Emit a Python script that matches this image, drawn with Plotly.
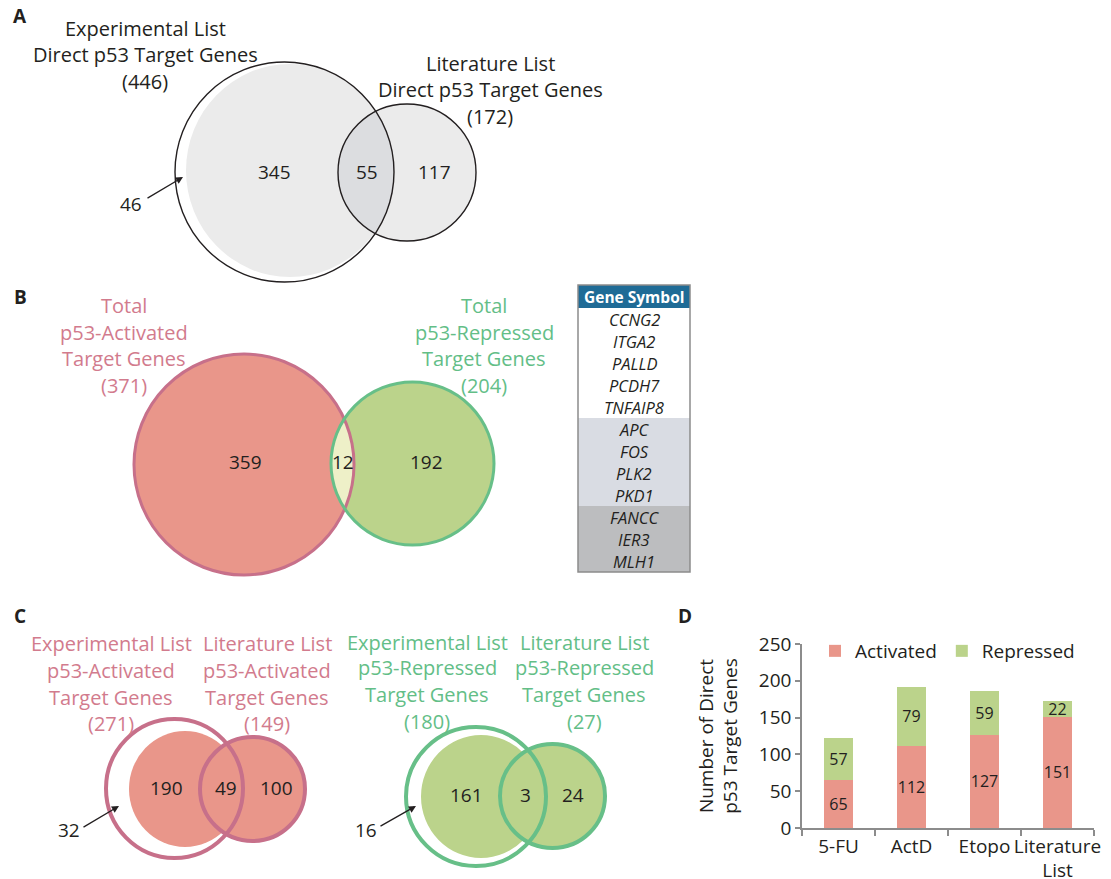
import numpy as np
import plotly.graph_objects as go

W, H = 1111, 879

# ---------------- data ----------------
a_counts = [345, 55, 117]        # experimental only, both, literature only
a_outside = 46                   # experimental genes in the white crescent
b_counts = [359, 12, 192]        # activated only, both, repressed only
c_act_counts = [190, 49, 100]
c_act_outside = 32
c_rep_counts = [161, 3, 24]
c_rep_outside = 16
gene_symbols = ["CCNG2", "ITGA2", "PALLD", "PCDH7", "TNFAIP8",
                "APC", "FOS", "PLK2", "PKD1", "FANCC", "IER3", "MLH1"]
gene_group_sizes = [5, 4, 3]
d_categories = ["5-FU", "ActD", "Etopo", "Literature<br>List"]
d_activated = [65, 112, 127, 151]
d_repressed = [57, 79, 59, 22]

a_total_exp = a_counts[0] + a_counts[1] + a_outside
a_total_lit = a_counts[1] + a_counts[2]
b_total_act = b_counts[0] + b_counts[1]
b_total_rep = b_counts[1] + b_counts[2]
c_act_total_exp = c_act_counts[0] + c_act_counts[1] + c_act_outside
c_act_total_lit = c_act_counts[1] + c_act_counts[2]
c_rep_total_exp = c_rep_counts[0] + c_rep_counts[1] + c_rep_outside
c_rep_total_lit = c_rep_counts[1] + c_rep_counts[2]

# ---------------- styles ----------------
FONT = "Open Sans"
INK = "#231f20"
RED_FILL = "#e9968a"
GREEN_FILL = "#bbd38b"
PINK_LINE = "#c7708a"
GREEN_LINE = "#67bf88"
PINK_TEXT = "#d27b8d"
GREEN_TEXT = "#63be87"
LENS_B = "#eef0c8"
GREY_FILL = "#ebebeb"
GREY_LENS = "#dcdde0"
TABLE_HEAD = "#1f6b96"
TABLE_FILLS = ["#ffffff", "#d9dce3", "#bcbdbf"]
LABEL_SIZE = 20
NUM_SIZE = 19

shapes = []
annotations = []


def ellipse(box, fill=None, line=None, width=0):
    x0, x1, y0, y1 = box
    return dict(type="circle", xref="x", yref="y", x0=x0, x1=x1, y0=y0, y1=y1,
                fillcolor=fill or "rgba(0,0,0,0)",
                line=dict(color=line or "rgba(0,0,0,0)", width=width))


def _center(box):
    x0, x1, y0, y1 = box
    return (x0 + x1) / 2, (y0 + y1) / 2, (x1 - x0) / 2, (y1 - y0) / 2


def lens(box1, box2, fill):
    cx1, cy1, rx1, ry1 = _center(box1)
    cx2, cy2, rx2, ry2 = _center(box2)
    n = 1440
    s1 = np.arctan2(cy2 - cy1, cx2 - cx1) + np.pi
    s2 = np.arctan2(cy1 - cy2, cx1 - cx2) + np.pi
    t1 = s1 + np.linspace(0, 2 * np.pi, n, endpoint=False)
    t2 = s2 + np.linspace(0, 2 * np.pi, n, endpoint=False)
    x1, y1 = cx1 + rx1 * np.cos(t1), cy1 + ry1 * np.sin(t1)
    x2, y2 = cx2 + rx2 * np.cos(t2), cy2 + ry2 * np.sin(t2)
    k1 = ((x1 - cx2) / rx2) ** 2 + ((y1 - cy2) / ry2) ** 2 <= 1
    k2 = ((x2 - cx1) / rx1) ** 2 + ((y2 - cy1) / ry1) ** 2 <= 1
    xs = np.concatenate([x1[k1], x2[k2]])
    ys = np.concatenate([y1[k1], y2[k2]])
    path = "M" + " L".join(f"{a:.2f},{b:.2f}" for a, b in zip(xs, ys)) + " Z"
    return dict(type="path", xref="x", yref="y", path=path, fillcolor=fill,
                line=dict(width=0))


def txt(x, y, s, color=INK, size=NUM_SIZE, bold=False, italic=False):
    if bold:
        s = f"<b>{s}</b>"
    if italic:
        s = f"<i>{s}</i>"
    annotations.append(dict(x=x, y=y, xref="x", yref="y", text=s,
                            showarrow=False, xanchor="center", yanchor="middle",
                            font=dict(family=FONT, size=size, color=color)))


def lines(x, ys, strs, color):
    for y, s in zip(ys, strs):
        txt(x, y, s, color=color, size=LABEL_SIZE)


def arrow(tail, head):
    annotations.append(dict(x=head[0], y=head[1], ax=tail[0], ay=tail[1],
                            xref="x", yref="y", axref="x", ayref="y", text="",
                            showarrow=True, arrowhead=2, arrowsize=1.1,
                            arrowwidth=1.3, arrowcolor=INK, standoff=0, startstandoff=0))


# ---------------- panel A ----------------
A_out = (175, 394, 62, 282)
A_fill = (186, 394, 64, 277)
A_small = (338, 476, 104, 241)
shapes += [ellipse(A_fill, fill=GREY_FILL),
           ellipse(A_small, fill=GREY_FILL),
           lens(A_fill, A_small, GREY_LENS),
           ellipse(A_out, line=INK, width=1.4),
           ellipse(A_small, line=INK, width=1.4)]
txt(20, 16, "A", size=19, bold=True)
lines(145, [28, 54, 81], ["Experimental List", "Direct p53 Target Genes", f"({a_total_exp})"], INK)
lines(490, [63, 89, 116], ["Literature List", "Direct p53 Target Genes", f"({a_total_lit})"], INK)
txt(274, 172, str(a_counts[0]))
txt(367, 172, str(a_counts[1]))
txt(434, 172, str(a_counts[2]))
txt(131, 204, str(a_outside))
arrow((146, 199), (183, 177))

# ---------------- panel B ----------------
B_red = (134, 354, 354, 575)
B_green = (331, 494, 382, 545)
shapes += [ellipse(B_red, fill=RED_FILL),
           ellipse(B_green, fill=GREEN_FILL),
           lens(B_red, B_green, LENS_B),
           ellipse(B_red, line=PINK_LINE, width=3),
           ellipse(B_green, line=GREEN_LINE, width=3)]
txt(20, 297, "B", size=19, bold=True)
lines(124, [305, 332, 358, 385], ["Total", "p53-Activated", "Target Genes", f"({b_total_act})"], PINK_TEXT)
lines(484, [305, 332, 358, 385], ["Total", "p53-Repressed", "Target Genes", f"({b_total_rep})"], GREEN_TEXT)
txt(245, 462, str(b_counts[0]))
txt(343, 462, str(b_counts[1]))
txt(426, 462, str(b_counts[2]))

# ---------------- gene table (panel B right) ----------------
T_X0, T_X1, T_TOP, T_HEAD, T_ROW = 578, 690, 285, 23, 22
shapes.append(dict(type="rect", xref="x", yref="y", x0=T_X0, x1=T_X1, y0=T_TOP, y1=T_TOP + T_HEAD,
                   fillcolor=TABLE_HEAD, line=dict(width=0)))
txt((T_X0 + T_X1) / 2, T_TOP + T_HEAD / 2, "Gene Symbol", color="white", size=15.5, bold=True)
row = 0
for g, n in enumerate(gene_group_sizes):
    y0 = T_TOP + T_HEAD + row * T_ROW
    shapes.append(dict(type="rect", xref="x", yref="y", x0=T_X0, x1=T_X1, y0=y0, y1=y0 + n * T_ROW,
                       fillcolor=TABLE_FILLS[g], line=dict(width=0)))
    row += n
for i, gname in enumerate(gene_symbols):
    txt((T_X0 + T_X1) / 2, T_TOP + T_HEAD + (i + 0.5) * T_ROW, gname, size=16.5, italic=True)
shapes.append(dict(type="rect", xref="x", yref="y", x0=T_X0, x1=T_X1, y0=T_TOP,
                   y1=T_TOP + T_HEAD + len(gene_symbols) * T_ROW,
                   line=dict(color="#8c8c8c", width=1.5), fillcolor="rgba(0,0,0,0)"))

# ---------------- panel C ----------------
C1_ring = (106, 243, 719, 858)
C1_fill = (129, 241, 731, 847)
C1_small = (200, 305, 737, 841)
C2_ring = (406, 546, 727, 866)
C2_fill = (421, 541, 735, 858)
C2_small = (500, 605, 744, 848)
shapes += [ellipse(C1_fill, fill=RED_FILL),
           ellipse(C1_small, fill=RED_FILL),
           ellipse(C1_ring, line=PINK_LINE, width=4),
           ellipse(C1_small, line=PINK_LINE, width=4),
           ellipse(C2_fill, fill=GREEN_FILL),
           ellipse(C2_small, fill=GREEN_FILL),
           ellipse(C2_ring, line=GREEN_LINE, width=4),
           ellipse(C2_small, line=GREEN_LINE, width=4)]
txt(20, 616, "C", size=19, bold=True)
lines(111, [643, 670, 697, 723], ["Experimental List", "p53-Activated", "Target Genes", f"({c_act_total_exp})"], PINK_TEXT)
lines(267, [643, 670, 697, 723], ["Literature List", "p53-Activated", "Target Genes", f"({c_act_total_lit})"], PINK_TEXT)
lines(427, [642, 667, 694, 721], ["Experimental List", "p53-Repressed", "Target Genes", f"({c_rep_total_exp})"], GREEN_TEXT)
lines(584, [642, 667, 694, 721], ["Literature List", "p53-Repressed", "Target Genes", f"({c_rep_total_lit})"], GREEN_TEXT)
txt(166, 788, str(c_act_counts[0]))
txt(226, 788, str(c_act_counts[1]))
txt(276, 788, str(c_act_counts[2]))
txt(69, 830, str(c_act_outside))
arrow((82, 828), (119, 806))
txt(466, 795, str(c_rep_counts[0]))
txt(525, 795, str(c_rep_counts[1]))
txt(573, 795, str(c_rep_counts[2]))
txt(366, 830, str(c_rep_outside))
arrow((379, 827), (416, 806))

# ---------------- panel D label ----------------
txt(685, 616, "D", size=19, bold=True)

fig = go.Figure()
fig.add_trace(go.Scatter(x=[0], y=[0], mode="markers", marker=dict(opacity=0),
                         showlegend=False, hoverinfo="skip"))

for name, vals, color in [("Activated", d_activated, RED_FILL), ("Repressed", d_repressed, GREEN_FILL)]:
    fig.add_trace(go.Bar(x=d_categories, y=vals, name=name, marker=dict(color=color, line=dict(width=0)),
                         width=0.4, text=vals, textposition="inside", textangle=0,
                         insidetextanchor="middle", constraintext="none",
                         textfont=dict(family=FONT, size=16, color=INK),
                         xaxis="x2", yaxis="y2", hoverinfo="skip"))

fig.update_layout(
    width=W, height=H, margin=dict(l=0, r=0, t=0, b=0, autoexpand=False),
    paper_bgcolor="white", plot_bgcolor="white",
    barmode="stack",
    font=dict(family=FONT, color=INK),
    shapes=shapes, annotations=annotations,
    xaxis=dict(range=[0, W], domain=[0, 1], visible=False, fixedrange=True, automargin=False),
    yaxis=dict(range=[H, 0], domain=[0, 1], visible=False, fixedrange=True, automargin=False),
    xaxis2=dict(domain=[802 / W, 1094 / W], anchor="y2", showline=True, automargin=False,
                linecolor="#8c8c8c", linewidth=1.5, ticks="outside", tickson="boundaries",
                ticklen=6, tickcolor="#8c8c8c", tickwidth=1.5, tickangle=0,
                tickfont=dict(family=FONT, size=19, color=INK), showgrid=False),
    yaxis2=dict(domain=[1 - 828 / H, 1 - 644 / H], anchor="x2", range=[0, 250], dtick=50,
                automargin=False,
                showline=True, linecolor="#8c8c8c", linewidth=1.5, ticks="outside",
                ticklen=5, tickcolor="#8c8c8c", tickwidth=1.5, showgrid=False, zeroline=False,
                tickfont=dict(family=FONT, size=19, color=INK),
                title=dict(text="Number of Direct<br>p53 Target Genes", standoff=16,
                           font=dict(family=FONT, size=19, color=INK))),
    legend=dict(orientation="h", x=815 / W, y=1 - 651 / H, xanchor="left", yanchor="middle",
                font=dict(family=FONT, size=19, color=INK), bgcolor="rgba(0,0,0,0)",
                traceorder="normal", itemclick=False),
)

fig.write_html("out.html")
